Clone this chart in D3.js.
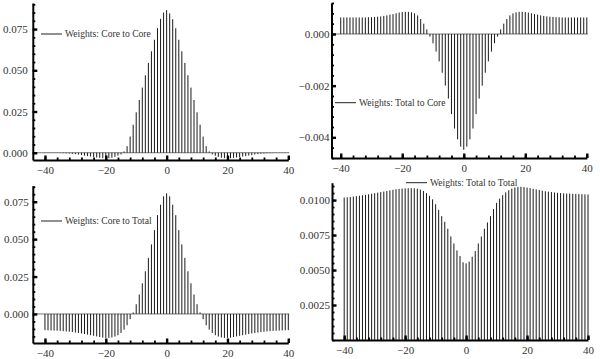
<!DOCTYPE html>
<html><head><meta charset="utf-8">
<script src="https://cdn.jsdelivr.net/npm/d3@7"></script>
<style>
html,body{margin:0;padding:0;background:#fff;}
svg{display:block;}
</style></head><body>
<svg id="chart" width="600" height="359"></svg>
<script>
// ---- data ----
const lags = [-40,-39,-38,-37,-36,-35,-34,-33,-32,-31,-30,-29,-28,-27,-26,-25,-24,-23,-22,-21,
  -20,-19,-18,-17,-16,-15,-14,-13,-12,-11,-10,-9,-8,-7,-6,-5,-4,-3,-2,-1,0,
  1,2,3,4,5,6,7,8,9,10,11,12,13,14,15,16,17,18,19,20,
  21,22,23,24,25,26,27,28,29,30,31,32,33,34,35,36,37,38,39,40];

const coreToCore = [-0.0001,-0.0001,-0.0001,-0.0001,-0.0001,-0.0002,-0.0003,-0.0004,-0.0005,-0.0007,
  -0.0009,-0.0011,-0.0014,-0.0017,-0.0020,-0.0023,-0.0026,-0.0029,-0.0031,-0.0033,
  -0.0034,-0.0033,-0.0030,-0.0025,-0.0018,-0.0010,0.0008,0.0040,0.0098,0.0170,
  0.0245,0.0320,0.0395,0.0470,0.0545,0.0615,0.0685,0.0755,0.0812,0.0850,0.0865,
  0.0845,0.0810,0.0755,0.0685,0.0615,0.0545,0.0470,0.0395,0.0320,0.0245,
  0.0170,0.0098,0.0040,0.0008,-0.0010,-0.0018,-0.0025,-0.0030,-0.0033,-0.0034,
  -0.0033,-0.0031,-0.0029,-0.0026,-0.0023,-0.0020,-0.0017,-0.0014,-0.0011,-0.0009,
  -0.0007,-0.0005,-0.0004,-0.0003,-0.0002,-0.0001,-0.0001,-0.0001,-0.0001,-0.0001];

const totalToCore = [0.00064,0.00064,0.00064,0.00064,0.00064,0.00064,0.00064,0.00064,0.00064,0.00065,
  0.00065,0.00066,0.00067,0.00068,0.00070,0.00072,0.00075,0.00077,0.00080,0.00083,
  0.00085,0.00086,0.00086,0.00084,0.00080,0.00072,0.00058,0.00040,0.00018,-0.00010,
  -0.00036,-0.00068,-0.00106,-0.00150,-0.00200,-0.00250,-0.00310,-0.00366,-0.00408,-0.00436,-0.00448,
  -0.00436,-0.00408,-0.00366,-0.00310,-0.00250,-0.00200,-0.00150,-0.00106,-0.00068,-0.00036,
  -0.00010,0.00018,0.00040,0.00058,0.00072,0.00080,0.00084,0.00086,0.00086,0.00085,
  0.00083,0.00080,0.00077,0.00075,0.00072,0.00070,0.00068,0.00067,0.00066,0.00065,
  0.00065,0.00064,0.00064,0.00064,0.00064,0.00064,0.00064,0.00064,0.00064,0.00064];

const coreToTotal = [-0.0108,-0.0109,-0.0110,-0.0111,-0.0112,-0.0113,-0.0115,-0.0117,-0.0119,-0.0121,
  -0.0124,-0.0127,-0.0130,-0.0134,-0.0138,-0.0142,-0.0146,-0.0150,-0.0154,-0.0158,
  -0.0160,-0.0160,-0.0157,-0.0151,-0.0142,-0.0127,-0.0105,-0.0075,-0.0035,0.0010,
  0.0065,0.0130,0.0205,0.0285,0.0375,0.0465,0.0560,0.0660,0.0730,0.0786,0.0806,
  0.0786,0.0730,0.0660,0.0560,0.0465,0.0375,0.0285,0.0205,0.0130,0.0065,
  0.0010,-0.0035,-0.0075,-0.0105,-0.0127,-0.0142,-0.0151,-0.0157,-0.0160,-0.0160,
  -0.0158,-0.0154,-0.0150,-0.0146,-0.0142,-0.0138,-0.0134,-0.0130,-0.0127,-0.0124,
  -0.0121,-0.0119,-0.0117,-0.0115,-0.0113,-0.0112,-0.0111,-0.0110,-0.0109,-0.0108];

const totalToTotal = [0.01018,0.01020,0.01022,0.01025,0.01028,0.01031,0.01034,0.01037,0.01041,0.01045,
  0.01049,0.01053,0.01057,0.01061,0.01065,0.01069,0.01073,0.01077,0.01080,0.01082,
  0.01084,0.01085,0.01085,0.01084,0.01081,0.01075,0.01065,0.01050,0.01030,0.01005,
  0.00970,0.00930,0.00885,0.00845,0.00795,0.00740,0.00690,0.00640,0.00600,0.00555,0.00548,
  0.00560,0.00595,0.00635,0.00690,0.00740,0.00795,0.00840,0.00885,0.00935,0.00980,
  0.01010,0.01035,0.01055,0.01070,0.01082,0.01090,0.01094,0.01095,0.01093,0.01089,
  0.01085,0.01080,0.01076,0.01072,0.01067,0.01063,0.01060,0.01057,0.01054,0.01052,
  0.01050,0.01048,0.01047,0.01046,0.01045,0.01044,0.01043,0.01042,0.01041,0.01040];

const legendLabels = ["Weights: Core to Core", "Weights: Total to Core", "Weights: Core to Total", "Weights: Total to Total"];
const xTickValues = [-40, -20, 0, 20, 40];
const yTicksCoreCore = [0, 0.025, 0.05, 0.075];
const yTicksTotalCore = [0, -0.002, -0.004];
const yTicksCoreTotal = [0, 0.025, 0.05, 0.075];
const yTicksTotalTotal = [0.0025, 0.005, 0.0075, 0.01];

// ---- layout ----
const FONT = "'Liberation Serif','Times New Roman',serif";
const panels = [
  {values: coreToCore, label: legendLabels[0], yTicks: yTicksCoreCore, fmt: ".3f", minorStep: 0.005,
   xDom: [-44, 40], xRange: [32.8, 288.3], yDom: [-0.0044, 0.0908], yRange: [160, 3], pad: 5,
   leg: {x: 41, y: 34}, zeroLine: true},
  {values: totalToCore, label: legendLabels[1], yTicks: yTicksTotalCore, fmt: ".3f", minorStep: 0.0004,
   xDom: [-43, 40], xRange: [331.5, 586.8], yDom: [-0.0048, 0.0012], yRange: [158, 3], pad: 2,
   leg: {x: 335, y: 102.7}, zeroLine: true},
  {values: coreToTotal, label: legendLabels[2], yTicks: yTicksCoreTotal, fmt: ".3f", minorStep: 0.005,
   xDom: [-44, 40], xRange: [32.8, 288.3], yDom: [-0.0194, 0.0857], yRange: [343, 185.7], pad: 4,
   leg: {x: 41, y: 221}, zeroLine: true},
  {values: totalToTotal, label: legendLabels[3], yTicks: yTicksTotalTotal, fmt: ".4f", minorStep: 0.0005,
   xDom: [-44, 40], xRange: [332, 588], yDom: [0, 0.01124], yRange: [340, 182.7], pad: 2,
   leg: {x: 406, y: 182.7}, zeroLine: false}
];

const svg = d3.select("#chart");

function stepTicks(dom, step, lo, hi) {
  const a = Math.ceil(Math.min(dom[0], dom[1]) / step - 1e-9);
  const b = Math.floor(Math.max(dom[0], dom[1]) / step + 1e-9);
  return d3.range(a, b + 1).map(i => +(i * step).toFixed(6)).filter(v => (lo === undefined || v >= lo) && (hi === undefined || v <= hi));
}

function drawPanel(p) {
  const g = svg.append("g");
  const x = d3.scaleLinear().domain(p.xDom).range(p.xRange);
  const y = d3.scaleLinear().domain(p.yDom).range(p.yRange);
  const y0 = y(0);

  if (p.zeroLine) {
    g.append("line").attr("x1", p.xRange[0]).attr("x2", x(40) + 1)
      .attr("y1", y0).attr("y2", y0).attr("stroke", "#777").attr("stroke-width", 1);
  }

  g.selectAll("line.stem").data(lags.map((k, i) => ({k, v: p.values[i]}))).join("line")
    .attr("class", "stem")
    .attr("x1", d => x(d.k)).attr("x2", d => x(d.k))
    .attr("y1", y0).attr("y2", d => y(d.v))
    .attr("stroke", "#1a1a1a").attr("stroke-width", 1);

  const xAxisY = p.yRange[0];
  const xAxisX = p.xRange[0];

  const xm = g.append("g").attr("transform", `translate(0,${xAxisY})`)
    .call(d3.axisBottom(x).tickValues(stepTicks(p.xDom, 4, -40, 40)).tickSize(-2.5).tickFormat(""));
  xm.select(".domain").remove();
  xm.selectAll("line").attr("stroke-width", 1.8);
  const xM = g.append("g").attr("transform", `translate(0,${xAxisY})`)
    .call(d3.axisBottom(x).tickValues(xTickValues).tickSize(-4.5).tickSizeOuter(0).tickPadding(6)
      .tickFormat(d3.format("d")));
  xM.select(".domain").attr("stroke-width", 2);
  xM.selectAll("line").attr("stroke-width", 2.4);
  xM.selectAll("text").attr("font-family", FONT).attr("font-size", 11).attr("fill", "#333");

  const ym = g.append("g").attr("transform", `translate(${xAxisX},0)`)
    .call(d3.axisLeft(y).tickValues(stepTicks(p.yDom, p.minorStep)).tickSize(-2.5).tickFormat(""));
  ym.select(".domain").remove();
  ym.selectAll("line").attr("stroke-width", 1.8);
  const yM = g.append("g").attr("transform", `translate(${xAxisX},0)`)
    .call(d3.axisLeft(y).tickValues(p.yTicks).tickSize(-4.5).tickSizeOuter(0).tickPadding(p.pad)
      .tickFormat(d3.format(p.fmt)));
  yM.select(".domain").attr("stroke-width", 2);
  yM.selectAll("line").attr("stroke-width", 2.4);
  yM.selectAll("text").attr("font-family", FONT).attr("font-size", 11).attr("fill", "#333");

  const lg = g.append("g");
  lg.append("line").attr("x1", p.leg.x).attr("x2", p.leg.x + 21)
    .attr("y1", p.leg.y).attr("y2", p.leg.y).attr("stroke", "#222").attr("stroke-width", 1);
  lg.append("text").attr("x", p.leg.x + 24).attr("y", p.leg.y + 3.2)
    .attr("font-family", FONT).attr("font-size", 9.6).attr("fill", "#333")
    .text(p.label);
}

panels.forEach(drawPanel);
</script>
</body></html>
